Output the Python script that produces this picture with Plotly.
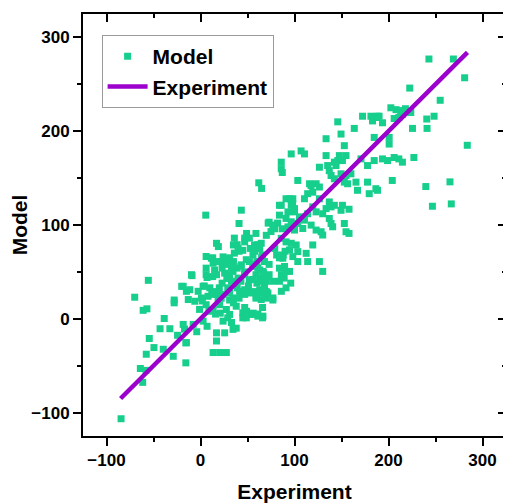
import plotly.graph_objects as go

# Scatter points (Experiment, Model)
pts = [
# lower-left region
(-84.5,-106.6),(-70,23),(-55.5,41),(-61,9),(-57,10.6),(-38.6,0.3),(-43,-10.6),(-32.6,-10.6),
(-54.5,-21),(-49.5,-30.7),(-57.7,-37.8),(-39.6,-32.5),(-64,-53),(-58,-55),(-61.5,-67.8),
(-29,-40),(-15.6,-47),(-15.6,-25.7),(-24.4,-17.6),(-28,20),(-28,17),(-20,34.6),(-9,46),
(-4,-13.8),(-17,-11),
# central region
(62,145),(65,139),(103.5,147.5),(116,144),(5.6,110.5),(43.4,115.8),(41,101.6),
(84,121),(94.6,128),(98,123),(100,114),(91,107),(84,110.5),
(73,103),(77,100),(82,102),
(59,91),(52,86),(47,82),(70,89),(75,93),
(36,86),(35,78.7),(40,75),(45,73),(57.5,78.7),(64.6,80.5),
(17,80.5),(19,77),
(6,66.4),(11.6,64.6),(13.4,59.3),(22,61),(27.5,62.8),(34.6,59.3),(43.4,57.5),(48.7,63),(55.8,68.1),
(61,54),(66.4,50.5),(55.8,55.8),
(6,54),(6,47),(15,52),(17,47),
(25.7,48.7),(31,43.4),(34.6,50.5),(40,43.4),(47,47),(52,41.6),(63,43.4),(68,41.6),(73,47),(77,40),
(84,54),(86,47),(89,43.4),(91,33),(86,29.3),(84,40),
(-9.6,47),(-18.4,34.6),(-15,29.3),(-11.4,31),
(-2.5,29.3),(2.8,34.6),(9.9,33),(13.4,27.5),(18.7,22.2),(24,25.8),(31,27.5),(34.6,22.2),(41.6,29.3),
(47,31),(54,27.5),(59.3,24),(64.6,20.5),
(68,33),(71.7,27.5),(77,22.2),
(-13,20.5),(-6,18.7),(1,22.2),
(6,15),(13.4,9.9),(20.4,15),(27.5,9.9),(31,4.6),(38,13.4),(45,6.4),(48.7,1),(54,4.6),(61,2.8),(66.4,2.8),
(-18.4,-6),(-7.8,-6),(2.8,-2.5),
(24,-2.5),(34.6,-11.3),
(17,-15),(25.7,-15),(17,-23.7),
(-15,-25.4),
(13.4,-36),(20.4,-36),(27.5,-36),
(7,44),(13,65),(17,61),(4,35),(8,24),(12,26),(2,19),(-1,10),(9,8),(7,-8),(16,5),(21,6),
(22,22),(17,29),(20,33),(23,38),(13,45),(23,54),(24,66),
(39,79),(41,72),(36,70),(31,65),(35,61),(28,58),(33,54),(47,86),(49,91),(30,47),(39,54),(43,56),
(47,50),(28,43),(33,40),(43,40),(29,33),(39,33),(43,28),(47,26),(31,20),(35,17),(41,22),(29,1),
(33,-4),(38,-10),(47,12),(49,8),(45,1),(51,35),(51,29),
(53,75),(58,72),(61,79),(63,75),(66,68),(52,61),(56,58),(60,61),(65,65),(68,61),(59,47),(63,52),
(67,49),(70,45),(56,42),(60,38),(65,40),(70,40),(68,36),(58,29),(63,31),(66,28),(70,29),(59,22),
(70,22),(66,12),(56,6),(61,5),(66,1),(73,58),
(72,102),(77,20),(79,75),(81,68),(84,65),(88,68),(90,72),(79,96),(87,96),(87,156),(96,38),
# upper-right region
(208,223),(213,222),(218,224),(223.7,220),(202.5,225),(206,213.6),(211,214.7),(215,218),
(172.4,216),(181.3,216),(186.6,214.6),(193.6,209),(183,211),(188,216),
(146,210),(163.6,203),(149.5,197),(133.6,192),(184.8,193.4),(200.7,193.4),(200.7,186.3),(153,184.6),
(96.5,175.8),(107,179),(110.6,175.8),(133.6,174),
(147.7,174),(146,168.7),(151,168.7),(142.4,167),(144.2,163.4),(154.8,174),
(170.7,170.5),(177.7,163.4),(184.8,168.7),(193.6,170.5),(199,168.7),(206,172),(211,170.5),(214.8,167),(227,172),
(85.9,167),(85.9,160),
(126.5,161.6),(135.3,163.4),(137,158),(138.9,152.8),(142.4,149.3),(149.5,154.6),(154.8,152.8),(160,154.6),
(117.6,142),(123,144),(126.5,140.5),
(153,145.7),(156.5,144),(165.4,145.7),(167,137),(177.7,145.7),(179.5,133.4),(186.6,138.7),(188.3,137),(204,147.5),
(91,128),(98.2,128),(96.5,121),(100,117.5),(93,114),(85.9,121),
(110.6,128),(114,133.4),(119.4,135),(126.5,128),
(133.6,117.5),(130,112),(138.9,119.3),(137,124.6),(142.4,121),
(119.4,119.3),(123,114),(114,112),
(151,121),(149.5,115.7),(158,116.8),
(153,101.6),(154.8,92.8),(158,91),
(85.9,85.8),(91,82),(96.5,80.5),(94.7,73.4),(101.8,78.7),(103.5,71.6),(112.4,69.8),(119.4,78.7),
(98.2,66.3),(103.5,61),(114,61),(126.5,61),(130,50.5),
(87.6,64.6),(89.4,55.8),(91,50.5),(94.7,50.5),
(105.3,108.7),(110.6,105.2),(103.5,101.6),(96.5,103.4),(93,98),(100,94.6),(108.8,96.3),(117.7,99.9),
(123,94.6),(128.3,92.8),(130,89.3),(137,106.9),(138.9,101.6),(140.6,98.1),
(243,277),(269,277),(281,257),(222.6,246),(255,233),
(190,216),(225.5,203),(241,203),(248.5,216),(240.7,213),(283.8,185),
(239.7,141),(265.4,146),(246.7,120),(266.8,122.5),
]
model_x = [p[0] for p in pts]
model_y = [p[1] for p in pts]

# Experiment reference line (y = x)
line_x = [-85, 284]
line_y = [-85, 284]

x_ticks = [-100, 0, 100, 200, 300]
y_ticks = [-100, 0, 100, 200, 300]
axis_range = [-125, 325]

FONT = "Liberation Sans, Arial, sans-serif"
GREEN = "#17CF8C"
PURPLE = "#9B00CC"

fig = go.Figure()
fig.add_trace(go.Scatter(
    x=model_x, y=model_y, mode="markers", name="Model",
    marker=dict(symbol="square", size=7, color=GREEN, line=dict(width=0)),
))
fig.add_trace(go.Scatter(
    x=line_x, y=line_y, mode="lines", name="Experiment",
    line=dict(color=PURPLE, width=4.5),
))

tickfont = dict(family=FONT, size=17, color="black", weight="bold")
minor_out = dict(dtick=50, tick0=-100, ticks="outside", ticklen=4, tickwidth=2, tickcolor="black", showgrid=False)
minor_in = dict(dtick=50, tick0=-100, ticks="inside", ticklen=4, tickwidth=2, tickcolor="black", showgrid=False)

# page body has an 8px margin: figure is sized to fit the window
fig.update_layout(
    width=503, height=495,
    margin=dict(l=75, r=3, t=6, b=64),
    plot_bgcolor="white", paper_bgcolor="white",
    showlegend=True,
    legend=dict(
        x=0.044, y=0.95, xanchor="left", yanchor="top",
        bgcolor="white", bordercolor="#9a9a9a", borderwidth=1,
        font=dict(family=FONT, size=21, color="black", weight="bold"),
        tracegroupgap=0, itemwidth=40,
    ),
    xaxis=dict(
        range=axis_range, tickvals=x_ticks, ticks="outside", ticklen=8, tickwidth=2,
        tickcolor="black", showline=True, linecolor="black", linewidth=2, mirror=True,
        showgrid=False, zeroline=False, tickfont=tickfont, minor=minor_out,
        title=dict(text="Experiment", font=dict(family=FONT, size=21, color="black", weight="bold"), standoff=15),
    ),
    yaxis=dict(
        range=axis_range, tickvals=y_ticks, ticks="outside", ticklen=8, tickwidth=2,
        tickcolor="black", showline=True, linecolor="black", linewidth=2, mirror=True,
        showgrid=False, zeroline=False, tickfont=tickfont, minor=minor_out,
        title=dict(text="Model", font=dict(family=FONT, size=21, color="black", weight="bold"), standoff=3),
    ),
    xaxis2=dict(
        range=axis_range, overlaying="x", side="top", anchor="y", tickvals=x_ticks,
        ticks="inside", ticklen=8, tickwidth=2, tickcolor="black", showticklabels=False,
        showgrid=False, zeroline=False, showline=False, minor=minor_in,
    ),
    yaxis2=dict(
        range=axis_range, overlaying="y", side="right", anchor="x", tickvals=y_ticks,
        ticks="inside", ticklen=8, tickwidth=2, tickcolor="black", showticklabels=False,
        showgrid=False, zeroline=False, showline=False, minor=minor_in,
    ),
)
# invisible trace to activate the mirrored inside-tick axes
fig.add_trace(go.Scatter(x=[None], y=[None], xaxis="x2", yaxis="y2", showlegend=False, hoverinfo="skip"))

fig.write_html("out.html")
